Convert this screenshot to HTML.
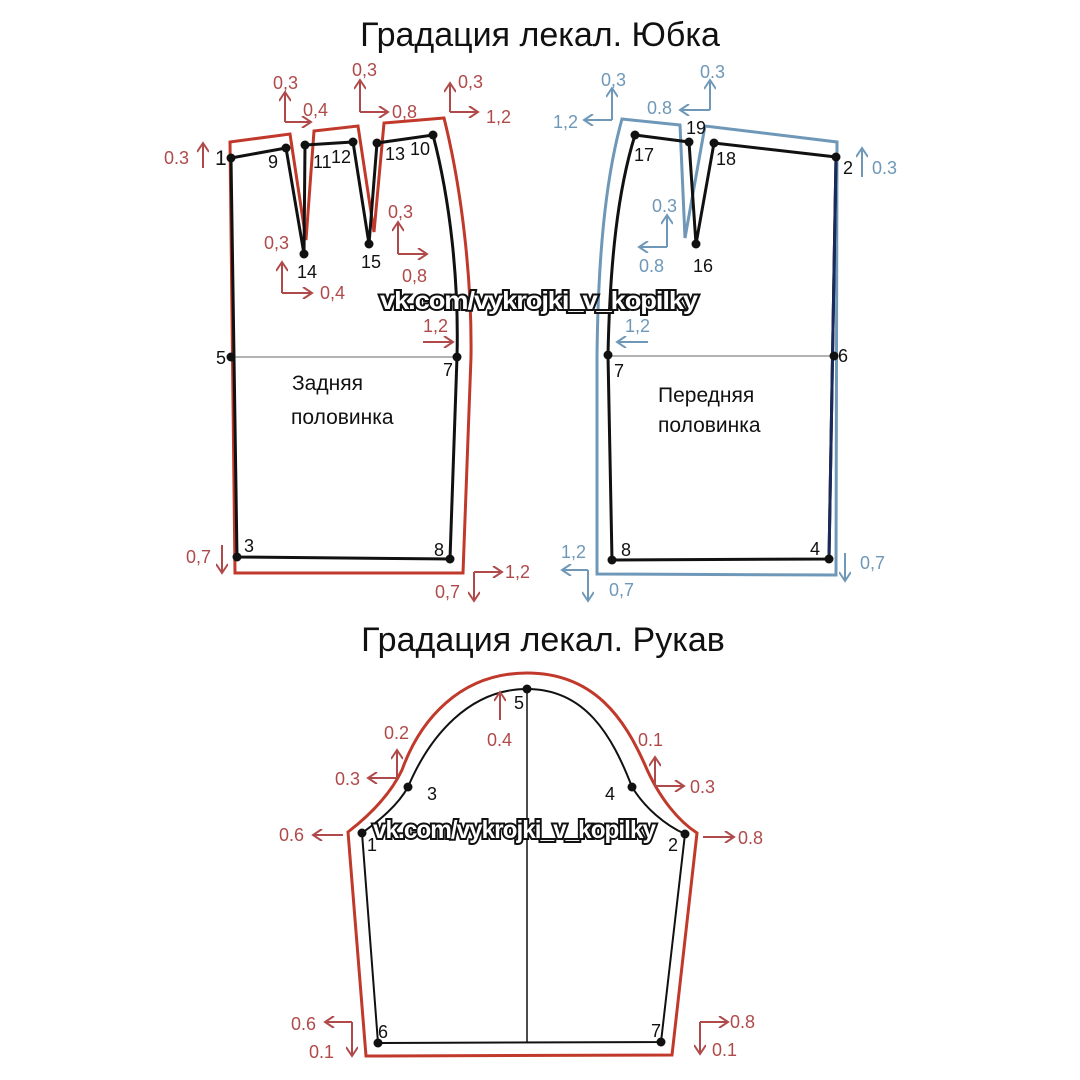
<!DOCTYPE html>
<html><head><meta charset="utf-8"><style>
html,body{margin:0;padding:0;background:#fff}
svg{display:block}
text{font-family:"Liberation Sans","DejaVu Sans",sans-serif}
</style></head><body>
<svg width="1080" height="1080" viewBox="0 0 1080 1080" xmlns="http://www.w3.org/2000/svg">
<defs>
<marker id="r" markerWidth="12" markerHeight="12" refX="10" refY="6" orient="auto" markerUnits="userSpaceOnUse"><path d="M1,0 L10,6 L1,12" fill="none" stroke="#b04a4a" stroke-width="2"/></marker>
<marker id="b" markerWidth="12" markerHeight="12" refX="10" refY="6" orient="auto" markerUnits="userSpaceOnUse"><path d="M1,0 L10,6 L1,12" fill="none" stroke="#6f98b8" stroke-width="2"/></marker>
</defs>
<g font-size="34" fill="#111">
<text x="540" y="46" text-anchor="middle">Градация лекал. Юбка</text>
<text x="543" y="651" text-anchor="middle">Градация лекал. Рукав</text>
</g>

<path d="M230,142 L290,134 L306,240 L314,131 L358,126 L374,232 L384,123 L444,118 C462,190 472,280 471,357 L463,573 L235,573 Z" fill="none" stroke="#c0392b" stroke-width="3" stroke-linejoin="miter"/>
<g fill="none" stroke="#111" stroke-width="3">
<path d="M231,158 L286,148 L304,254 L305,145 L353,142 L369,244 L377,143 L433,135 C450,200 459,280 457,357 L450,559 L237,557 L231,158"/>
</g>
<line x1="231" y1="357" x2="457" y2="357" stroke="#999" stroke-width="1.5"/>
<g fill="#111">
<circle cx="231" cy="158" r="4.5"/><circle cx="286" cy="148" r="4.5"/><circle cx="304" cy="254" r="4.5"/><circle cx="305" cy="145" r="4.5"/><circle cx="353" cy="142" r="4.5"/><circle cx="369" cy="244" r="4.5"/><circle cx="377" cy="143" r="4.5"/><circle cx="433" cy="135" r="4.5"/><circle cx="231" cy="357" r="4.5"/><circle cx="457" cy="357" r="4.5"/><circle cx="237" cy="557" r="4.5"/><circle cx="450" cy="559" r="4.5"/>
</g>

<path d="M622,119 L680,125 L685,238 L705,126 L837,142 L836,575 L597,574 L597,357 C598,260 605,180 622,119 Z" fill="none" stroke="#6f98b8" stroke-width="3"/>
<g fill="none" stroke="#111" stroke-width="3">
<path d="M635,135 L689,142 L696,244 L714,143 L836,157 L829,559 L612,560 L608,355 C610,260 618,190 635,135"/>
</g>
<line x1="608" y1="356" x2="834" y2="356" stroke="#999" stroke-width="1.5"/>
<line x1="836" y1="157" x2="829" y2="559" stroke="#1a2a5a" stroke-width="3"/>
<g fill="#111">
<circle cx="635" cy="135" r="4.5"/><circle cx="689" cy="142" r="4.5"/><circle cx="696" cy="244" r="4.5"/><circle cx="714" cy="143" r="4.5"/><circle cx="836" cy="157" r="4.5"/><circle cx="834" cy="356" r="4.5"/><circle cx="829" cy="559" r="4.5"/><circle cx="612" cy="560" r="4.5"/><circle cx="608" cy="355" r="4.5"/>
</g>

<g font-size="18" fill="#111">
<text x="215" y="165" font-size="21">1</text>
<text x="268" y="168">9</text><text x="313" y="168">11</text><text x="331" y="163">12</text><text x="385" y="160">13</text><text x="410" y="155">10</text>
<text x="297" y="278">14</text><text x="361" y="268">15</text>
<text x="216" y="364">5</text><text x="443" y="376">7</text>
<text x="244" y="552">3</text><text x="434" y="556">8</text>
<text x="634" y="161">17</text><text x="686" y="134">19</text><text x="716" y="165">18</text><text x="693" y="272">16</text>
<text x="843" y="174">2</text><text x="838" y="362">6</text><text x="614" y="377">7</text><text x="810" y="555">4</text><text x="621" y="556">8</text>
</g>
<g font-size="21" fill="#111">
<text x="292" y="390">Задняя</text><text x="291" y="424">половинка</text>
<text x="658" y="402">Передняя</text><text x="658" y="432">половинка</text>
</g>

<g stroke="#b04a4a" stroke-width="2" fill="none">
<line x1="203" y1="168" x2="203" y2="143" marker-end="url(#r)"/>
<line x1="285" y1="122" x2="285" y2="92" marker-end="url(#r)"/><line x1="285" y1="122" x2="311" y2="122" marker-end="url(#r)"/>
<line x1="360" y1="112" x2="360" y2="80" marker-end="url(#r)"/><line x1="360" y1="112" x2="388" y2="112" marker-end="url(#r)"/>
<line x1="450" y1="112" x2="450" y2="83" marker-end="url(#r)"/><line x1="450" y1="112" x2="478" y2="112" marker-end="url(#r)"/>
<line x1="398" y1="254" x2="398" y2="222" marker-end="url(#r)"/><line x1="398" y1="254" x2="427" y2="254" marker-end="url(#r)"/>
<line x1="282" y1="293" x2="282" y2="262" marker-end="url(#r)"/><line x1="282" y1="293" x2="312" y2="293" marker-end="url(#r)"/>
<line x1="423" y1="342" x2="453" y2="342" marker-end="url(#r)"/>
<line x1="222" y1="545" x2="222" y2="573" marker-end="url(#r)"/>
<line x1="474" y1="572" x2="474" y2="601" marker-end="url(#r)"/><line x1="474" y1="572" x2="502" y2="572" marker-end="url(#r)"/>
</g>
<g font-size="18" fill="#b04a4a">
<text x="164" y="164">0.3</text>
<text x="273" y="89">0,3</text><text x="303" y="116">0,4</text>
<text x="352" y="76">0,3</text><text x="392" y="118">0,8</text>
<text x="458" y="88">0,3</text><text x="486" y="123">1,2</text>
<text x="388" y="218">0,3</text><text x="402" y="282">0,8</text>
<text x="264" y="249">0,3</text><text x="320" y="299">0,4</text>
<text x="423" y="332">1,2</text>
<text x="186" y="563">0,7</text>
<text x="435" y="598">0,7</text><text x="505" y="578">1,2</text>
</g>
<g stroke="#6f98b8" stroke-width="2" fill="none">
<line x1="612" y1="120" x2="612" y2="88" marker-end="url(#b)"/><line x1="612" y1="120" x2="584" y2="120" marker-end="url(#b)"/>
<line x1="710" y1="110" x2="710" y2="80" marker-end="url(#b)"/><line x1="710" y1="110" x2="680" y2="110" marker-end="url(#b)"/>
<line x1="667" y1="247" x2="667" y2="215" marker-end="url(#b)"/><line x1="667" y1="247" x2="639" y2="247" marker-end="url(#b)"/>
<line x1="862" y1="177" x2="862" y2="148" marker-end="url(#b)"/>
<line x1="648" y1="342" x2="617" y2="342" marker-end="url(#b)"/>
<line x1="588" y1="570" x2="562" y2="570" marker-end="url(#b)"/><line x1="588" y1="570" x2="588" y2="601" marker-end="url(#b)"/>
<line x1="845" y1="553" x2="845" y2="581" marker-end="url(#b)"/>
</g>
<g font-size="18" fill="#6f98b8">
<text x="601" y="86">0,3</text><text x="553" y="128">1,2</text>
<text x="700" y="78">0.3</text><text x="647" y="114">0.8</text>
<text x="652" y="212">0.3</text><text x="639" y="272">0.8</text>
<text x="872" y="174">0.3</text>
<text x="625" y="332">1,2</text>
<text x="561" y="558">1,2</text><text x="609" y="596">0,7</text>
<text x="860" y="569">0,7</text>
</g>

<path d="M348,832 C370,815 390,795 402,770 C420,720 460,673 527,673 C595,673 625,720 645,765 C660,800 680,822 697,833 L672,1055 L366,1056 Z" fill="none" stroke="#c0392b" stroke-width="3"/>
<path d="M362,833 C380,820 398,805 408,787 C430,735 470,689 527,689 C585,689 612,735 632,787 C645,808 665,825 685,834 L661,1042 L378,1043 Z" fill="none" stroke="#111" stroke-width="2"/>
<line x1="527" y1="689" x2="527" y2="1043" stroke="#111" stroke-width="1.5"/>
<g fill="#111">
<circle cx="362" cy="833" r="4.5"/><circle cx="408" cy="787" r="4.5"/><circle cx="527" cy="689" r="4.5"/><circle cx="632" cy="787" r="4.5"/><circle cx="685" cy="834" r="4.5"/><circle cx="661" cy="1042" r="4.5"/><circle cx="378" cy="1043" r="4.5"/>
</g>
<g font-size="18" fill="#111">
<text x="367" y="851">1</text><text x="427" y="800">3</text><text x="514" y="709">5</text><text x="605" y="800">4</text><text x="668" y="851">2</text><text x="378" y="1038">6</text><text x="651" y="1037">7</text>
</g>
<g stroke="#b04a4a" stroke-width="2" fill="none">
<line x1="500" y1="720" x2="500" y2="692" marker-end="url(#r)"/>
<line x1="397" y1="778" x2="397" y2="750" marker-end="url(#r)"/><line x1="397" y1="778" x2="368" y2="778" marker-end="url(#r)"/>
<line x1="655" y1="786" x2="655" y2="757" marker-end="url(#r)"/><line x1="655" y1="786" x2="684" y2="786" marker-end="url(#r)"/>
<line x1="343" y1="835" x2="313" y2="835" marker-end="url(#r)"/>
<line x1="703" y1="837" x2="734" y2="837" marker-end="url(#r)"/>
<line x1="352" y1="1022" x2="325" y2="1022" marker-end="url(#r)"/><line x1="352" y1="1022" x2="352" y2="1056" marker-end="url(#r)"/>
<line x1="700" y1="1022" x2="700" y2="1054" marker-end="url(#r)"/><line x1="700" y1="1022" x2="728" y2="1022" marker-end="url(#r)"/>
</g>
<g font-size="18" fill="#b04a4a">
<text x="487" y="746">0.4</text>
<text x="384" y="739">0.2</text><text x="335" y="785">0.3</text>
<text x="638" y="746">0.1</text><text x="690" y="793">0.3</text>
<text x="279" y="841">0.6</text><text x="738" y="844">0.8</text>
<text x="291" y="1030">0.6</text><text x="309" y="1058">0.1</text>
<text x="730" y="1028">0.8</text><text x="712" y="1056">0.1</text>
</g>

<g font-size="25" font-weight="bold" fill="#fff" stroke="#111" stroke-width="4" paint-order="stroke" letter-spacing="-1">
<text x="380" y="309" textLength="317" lengthAdjust="spacingAndGlyphs">vk.com/vykrojki_v_kopilky</text>
<text x="373" y="838" textLength="282" lengthAdjust="spacingAndGlyphs">vk.com/vykrojki_v_kopilky</text>
</g>
</svg>
</body></html>
